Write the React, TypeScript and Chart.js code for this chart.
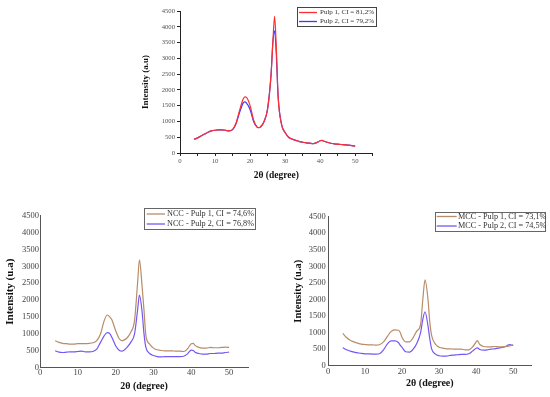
import React, { useEffect, useRef } from 'react';
import { Chart, registerables } from 'chart.js';

Chart.register(...registerables);

// ---------- data ----------
const PULP_ANGLES = [4, 5, 6, 7, 8, 9, 10, 11, 12, 13, 14, 15, 16, 17, 18, 18.5, 19, 20, 21, 22, 22.5, 23, 24, 25, 26, 26.5, 27, 27.5, 28, 29, 30, 31, 32, 33, 34, 35, 36, 37, 38, 39, 40, 40.5, 41, 42, 43, 44, 45, 46, 47, 48, 49, 50];
const PULP1_INTENSITY = [430, 480, 540, 600, 660, 700, 720, 730, 730, 720, 700, 740, 950, 1350, 1700, 1780, 1760, 1500, 1050, 820, 800, 830, 1000, 1400, 2500, 3500, 4330, 3300, 1800, 900, 650, 500, 440, 400, 370, 340, 320, 310, 300, 330, 390, 400, 380, 340, 310, 290, 280, 270, 260, 250, 235, 220];
const PULP2_INTENSITY = [430, 480, 540, 600, 660, 700, 720, 730, 730, 720, 700, 740, 930, 1280, 1580, 1620, 1580, 1380, 1000, 820, 800, 830, 1000, 1400, 2500, 3500, 3870, 3100, 1800, 900, 650, 500, 440, 400, 370, 340, 320, 310, 300, 330, 390, 400, 380, 340, 310, 290, 280, 270, 260, 250, 235, 220];
const PULP_LABELS = ['Pulp 1, CI = 81,2%', 'Pulp 2, CI = 79,2%'];

const NCC_ANGLES = [4, 5, 6, 7, 8, 9, 10, 11, 12, 13, 14, 15, 16, 17, 17.8, 18.5, 19, 20, 21, 21.7, 22, 23, 24, 25, 25.8, 26.3, 27, 27.5, 28, 29, 30, 31, 32, 33, 34, 35, 36, 37, 38, 39, 40, 40.5, 41, 42, 43, 44, 45, 46, 47, 48, 49, 50];
const NCC1_INTENSITY = [800, 750, 720, 710, 700, 700, 710, 710, 710, 720, 740, 800, 1000, 1400, 1560, 1500, 1420, 1100, 850, 800, 810, 880, 1050, 1400, 2500, 3190, 2400, 1700, 950, 700, 580, 530, 510, 500, 500, 500, 490, 490, 480, 560, 710, 720, 660, 600, 580, 580, 600, 590, 590, 600, 610, 600];
const NCC2_INTENSITY = [503, 460, 450, 460, 470, 470, 480, 490, 470, 470, 480, 550, 750, 950, 1036, 1000, 900, 650, 510, 490, 500, 600, 750, 1000, 1700, 2150, 1650, 1000, 600, 420, 360, 330, 320, 330, 330, 330, 330, 330, 340, 410, 520, 510, 460, 420, 400, 400, 420, 420, 430, 430, 450, 460];
const NCC_LABELS = ['NCC - Pulp 1, CI = 74,6%', 'NCC - Pulp 2, CI = 76,8%'];

const MCC_ANGLES = [4, 5, 6, 7, 8, 9, 10, 11, 12, 13, 14, 15, 16, 17, 18, 19, 19.5, 20, 21, 22, 23, 24, 25, 25.6, 26.2, 27, 27.5, 28, 29, 30, 31, 32, 33, 34, 35, 36, 37, 38, 39, 40, 40.3, 41, 42, 43, 44, 45, 46, 47, 48, 49, 50];
const MCC1_INTENSITY = [976, 850, 770, 720, 680, 650, 640, 630, 630, 620, 640, 720, 880, 1030, 1080, 1070, 1000, 850, 720, 720, 850, 1050, 1250, 2000, 2590, 2000, 1300, 900, 650, 560, 530, 510, 510, 500, 500, 500, 480, 480, 560, 720, 760, 640, 580, 570, 570, 580, 570, 570, 580, 600, 630];
const MCC2_INTENSITY = [544, 480, 440, 410, 390, 370, 360, 360, 350, 350, 370, 480, 650, 750, 750, 700, 620, 550, 420, 410, 500, 680, 1000, 1400, 1630, 1200, 800, 500, 350, 300, 290, 290, 310, 320, 330, 340, 340, 360, 440, 530, 540, 490, 470, 480, 500, 510, 530, 550, 580, 640, 610];
const MCC_LABELS = ['MCC - Pulp 1, CI = 73,1%', 'MCC - Pulp 2, CI = 74,5%'];

const X_TICK_LABELS = [0, 10, 20, 30, 40, 50];
const X_TICK_MARKS_TOP = [0, 5, 10, 15, 20, 25, 30, 35, 40, 45, 50, 55];
const Y_TICKS = [0, 500, 1000, 1500, 2000, 2500, 3000, 3500, 4000, 4500];
const X_TITLE = '2θ (degree)';
const Y_TITLE_TOP = 'Intensity (a.u)';
const Y_TITLE_BOTTOM = 'Intensity (u.a)';

// ---------- chart helper ----------
const W = 550;
const H = 397;
const SERIF = "'Liberation Serif', 'Times New Roman', serif";

type Layout = {
  area: { left: number; top: number; right: number; bottom: number };
  yAxisWidth: number;
  yAxisLeft: number;
  yTitleSize: number;
  yTitleCenter: number;
  xTitleSize: number;
  xTitleCenter: number;
  tickSize: number;
  tickColor: string;
  yTickPad: number;
  xTickPad: number;
  tickMarks: boolean;
  axisColor: string;
  legend: {
    box: { x: number; y: number; w: number; h: number };
    line: [number, number];
    textX: number;
    rows: number[];
    size: number;
    border: string;
  };
};

type Series = { label: string; color: string; x: number[]; y: number[] };

function makePoints(xs: number[], ys: number[]) {
  return xs.map((x, i) => ({ x, y: ys[i] }));
}

function XrdChart({ series, layout, yTitle, xMarks }: { series: Series[]; layout: Layout; yTitle: string; xMarks: number[] }) {
  const ref = useRef<HTMLCanvasElement | null>(null);
  useEffect(() => {
    if (!ref.current) return;
    const L = layout;
    const legendPlugin = {
      id: 'boxLegend',
      afterDraw(chart: any) {
        const ctx = chart.ctx as CanvasRenderingContext2D;
        const lg = L.legend;
        ctx.save();
        ctx.strokeStyle = lg.border;
        ctx.lineWidth = 1;
        ctx.strokeRect(Math.round(lg.box.x) + 0.5, Math.round(lg.box.y) + 0.5, lg.box.w, lg.box.h);
        chart.data.datasets.forEach((ds: any, i: number) => {
          const y = lg.rows[i];
          ctx.strokeStyle = ds.borderColor;
          ctx.lineWidth = 1.3;
          ctx.beginPath();
          ctx.moveTo(lg.line[0], y);
          ctx.lineTo(lg.line[1], y);
          ctx.stroke();
          ctx.fillStyle = '#333';
          ctx.font = `${lg.size}px ${SERIF}`;
          ctx.textBaseline = 'middle';
          ctx.textAlign = 'left';
          ctx.fillText(ds.label, lg.textX, y);
        });
        ctx.restore();
      },
    };
    const yLine = (L.yTitleSize * 1.2) / 2;
    const xLine = (L.xTitleSize * 1.2) / 2;
    const chart = new Chart(ref.current, {
      type: 'line',
      data: {
        datasets: series.map((s) => ({
          label: s.label,
          data: makePoints(s.x, s.y),
          borderColor: s.color,
          backgroundColor: s.color,
          borderWidth: 1.2,
          pointRadius: 0,
          fill: false,
          cubicInterpolationMode: 'monotone' as const,
        })),
      },
      options: {
        responsive: false,
        animation: false,
        devicePixelRatio: 1,
        layout: {
          padding: {
            left: L.yAxisLeft,
            top: L.area.top,
            right: W - L.area.right,
            bottom: 0,
          },
        },
        plugins: { legend: { display: false }, tooltip: { enabled: false } },
        scales: {
          x: {
            type: 'linear',
            min: 0,
            max: 55,
            afterFit: (scale: any) => {
              scale.height = H - L.area.bottom;
            },
            afterBuildTicks: (scale: any) => {
              scale.ticks = xMarks.map((v) => ({ value: v }));
            },
            ticks: {
              autoSkip: false,
              maxRotation: 0,
              padding: L.xTickPad,
              color: L.tickColor,
              font: { family: SERIF, size: L.tickSize },
              callback: (v: any) => (X_TICK_LABELS.includes(Number(v)) ? String(v) : ''),
            },
            grid: {
              display: true,
              drawOnChartArea: false,
              drawTicks: L.tickMarks,
              tickLength: 3,
              color: L.axisColor,
            },
            border: { display: true, color: L.axisColor, width: 1 },
            title: {
              display: true,
              text: X_TITLE,
              color: '#111',
              font: { family: SERIF, size: L.xTitleSize, weight: 'bold' },
              padding: { top: 0, bottom: H - L.xTitleCenter - xLine },
            },
          },
          y: {
            type: 'linear',
            min: 0,
            max: 4500,
            afterFit: (scale: any) => {
              scale.width = L.yAxisWidth;
            },
            afterBuildTicks: (scale: any) => {
              scale.ticks = Y_TICKS.map((v) => ({ value: v }));
            },
            ticks: {
              autoSkip: false,
              padding: L.yTickPad,
              color: L.tickColor,
              font: { family: SERIF, size: L.tickSize },
              callback: (v: any) => String(v),
            },
            grid: {
              display: true,
              drawOnChartArea: false,
              drawTicks: L.tickMarks,
              tickLength: 3,
              color: L.axisColor,
            },
            border: { display: true, color: L.axisColor, width: 1 },
            title: {
              display: true,
              text: yTitle,
              color: '#111',
              font: { family: SERIF, size: L.yTitleSize, weight: 'bold' },
              padding: { top: L.yTitleCenter - L.yAxisLeft - yLine, bottom: 0 },
            },
          },
        },
      },
      plugins: [legendPlugin],
    } as any);
    return () => chart.destroy();
  }, []);
  return (
    <canvas
      ref={ref}
      width={W}
      height={H}
      style={{ position: 'absolute', left: 0, top: 0, width: W, height: H }}
    />
  );
}

const topLayout: Layout = {
  area: { left: 180, top: 11, right: 372.7, bottom: 153 },
  yAxisLeft: 130,
  yAxisWidth: 50,
  yTitleSize: 9,
  yTitleCenter: 145.7,
  xTitleSize: 9.5,
  xTitleCenter: 175.7,
  tickSize: 6.7,
  tickColor: '#555',
  yTickPad: 2,
  xTickPad: 1.5,
  tickMarks: true,
  axisColor: '#222',
  legend: {
    box: { x: 297, y: 7, w: 79, h: 19 },
    line: [299, 317],
    textX: 320,
    rows: [12.5, 21.5],
    size: 7,
    border: '#444',
  },
};

const leftLayout: Layout = {
  area: { left: 40, top: 215.7, right: 248, bottom: 367.7 },
  yAxisLeft: 0,
  yAxisWidth: 40,
  yTitleSize: 11,
  yTitleCenter: 10,
  xTitleSize: 10,
  xTitleCenter: 386.7,
  tickSize: 8.5,
  tickColor: '#444',
  yTickPad: 1,
  xTickPad: 0,
  tickMarks: false,
  axisColor: '#555',
  legend: {
    box: { x: 144, y: 208, w: 111, h: 21 },
    line: [146.7, 165],
    textX: 167,
    rows: [214, 224],
    size: 8.2,
    border: '#666',
  },
};

const rightLayout: Layout = {
  area: { left: 328, top: 216.7, right: 531.7, bottom: 365.7 },
  yAxisLeft: 288,
  yAxisWidth: 40,
  yTitleSize: 10.5,
  yTitleCenter: 298.3,
  xTitleSize: 10,
  xTitleCenter: 383.3,
  tickSize: 8.5,
  tickColor: '#444',
  yTickPad: 2.3,
  xTickPad: 1,
  tickMarks: false,
  axisColor: '#555',
  legend: {
    box: { x: 435, y: 212, w: 110, h: 19 },
    line: [436.7, 456.7],
    textX: 458,
    rows: [216.5, 226],
    size: 8.2,
    border: '#666',
  },
};

export default function App() {
  const topSeries: Series[] = [
    { label: PULP_LABELS[0], color: '#ff2e2e', x: PULP_ANGLES, y: PULP1_INTENSITY },
    { label: PULP_LABELS[1], color: '#3b3bff', x: PULP_ANGLES, y: PULP2_INTENSITY },
  ];
  const nccSeries: Series[] = [
    { label: NCC_LABELS[0], color: '#b88c68', x: NCC_ANGLES, y: NCC1_INTENSITY },
    { label: NCC_LABELS[1], color: '#7556f5', x: NCC_ANGLES, y: NCC2_INTENSITY },
  ];
  const mccSeries: Series[] = [
    { label: MCC_LABELS[0], color: '#b88c68', x: MCC_ANGLES, y: MCC1_INTENSITY },
    { label: MCC_LABELS[1], color: '#7556f5', x: MCC_ANGLES, y: MCC2_INTENSITY },
  ];
  return (
    <div style={{ position: 'fixed', left: 0, top: 0, width: W, height: H, background: '#fff' }}>
      <XrdChart series={topSeries} layout={topLayout} yTitle={Y_TITLE_TOP} xMarks={X_TICK_MARKS_TOP} />
      <XrdChart series={nccSeries} layout={leftLayout} yTitle={Y_TITLE_BOTTOM} xMarks={X_TICK_LABELS} />
      <XrdChart series={mccSeries} layout={rightLayout} yTitle={Y_TITLE_BOTTOM} xMarks={X_TICK_LABELS} />
    </div>
  );
}
